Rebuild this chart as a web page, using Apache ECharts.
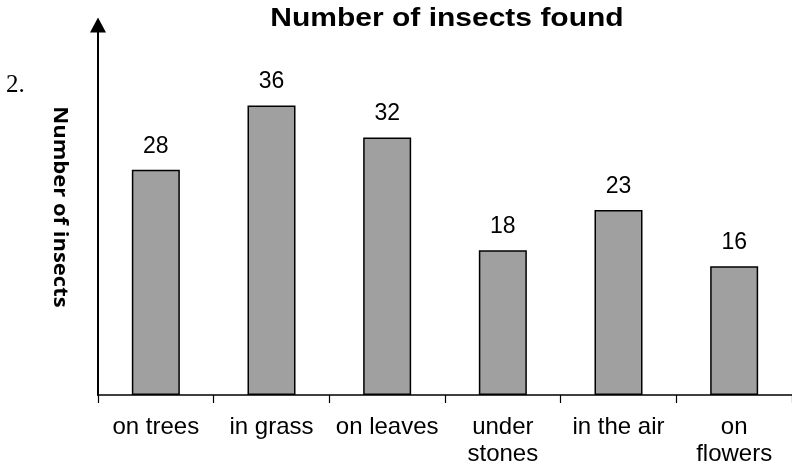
<!DOCTYPE html>
<html>
<head>
<meta charset="utf-8">
<script src="https://cdn.jsdelivr.net/npm/echarts@6/dist/echarts.min.js"></script>
<style>
  html, body { margin: 0; padding: 0; background: #fff; }
  #chart { width: 792px; height: 473px; }
</style>
</head>
<body>
<div id="chart"></div>
<script>
// Where the insects were found and how many in each place
const categories = ['on trees', 'in grass', 'on leaves', 'under\nstones', 'in the air', 'on\nflowers'];
const insectCounts = [28, 36, 32, 18, 23, 16];

const chartTitle = 'Number of insects found';
const yAxisTitle = 'Number of insects';
const questionNumber = '2.';

const chart = echarts.init(document.getElementById('chart'), null, { renderer: 'canvas' });

chart.setOption({
  backgroundColor: '#ffffff',
  animation: false,
  grid: { left: 98, top: 25, width: 696, height: 370, containLabel: false },
  xAxis: {
    type: 'category',
    data: categories,
    boundaryGap: true,
    axisLine: { show: true, lineStyle: { color: '#000', width: 1.5 } },
    axisTick: { show: true, alignWithLabel: false, length: 8, lineStyle: { color: '#000', width: 1.2 } },
    axisLabel: {
      interval: 0,
      margin: 19,
      color: '#000',
      fontFamily: 'Liberation Sans, Arial, sans-serif',
      fontSize: 24,
      lineHeight: 27,
      align: 'center'
    },
    splitLine: { show: false }
  },
  yAxis: {
    type: 'value',
    min: 0,
    max: 46,
    axisLine: {
      show: true,
      symbol: ['none', 'triangle'],
      symbolSize: [16, 15],
      lineStyle: { color: '#000', width: 2 }
    },
    axisTick: { show: false },
    axisLabel: { show: false },
    splitLine: { show: false }
  },
  series: [{
    type: 'bar',
    data: insectCounts,
    barWidth: 48,
    itemStyle: { color: '#a0a0a0', borderColor: '#000', borderWidth: 1.5 },
    label: {
      show: true,
      position: 'top',
      distance: 12,
      color: '#000',
      fontFamily: 'Liberation Sans, Arial, sans-serif',
      fontSize: 23,
      lineHeight: 23
    }
  }],
  graphic: [
    {
      type: 'text',
      x: 447,
      y: 19,
      scaleX: 1.2,
      style: {
        text: chartTitle,
        font: 'bold 25px "Liberation Sans", Arial, sans-serif',
        fill: '#000',
        textAlign: 'center',
        textVerticalAlign: 'middle'
      }
    },
    {
      type: 'text',
      x: 60,
      y: 207,
      rotation: -Math.PI / 2,
      scaleX: 1.1,
      style: {
        text: yAxisTitle,
        font: 'bold 20px "Open Sans", "Noto Sans", sans-serif',
        fill: '#000',
        textAlign: 'center',
        textVerticalAlign: 'middle'
      }
    },
    {
      type: 'text',
      x: 6,
      y: 85,
      style: {
        text: questionNumber,
        font: '25px "Liberation Serif", "Times New Roman", serif',
        fill: '#000',
        textAlign: 'left',
        textVerticalAlign: 'middle'
      }
    }
  ]
});
</script>
</body>
</html>
